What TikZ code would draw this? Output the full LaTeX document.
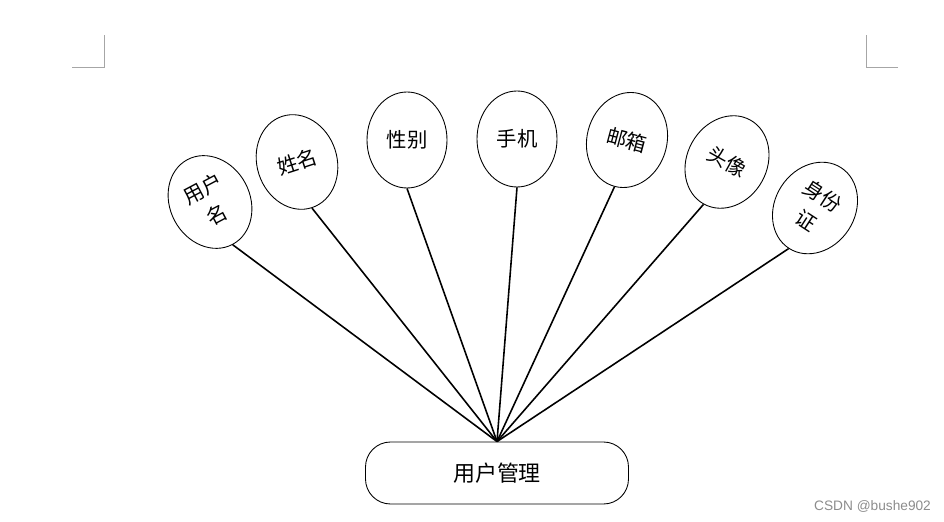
\documentclass[tikz,border=0pt]{standalone}
\usepackage{fontspec}
\newfontfamily\cjk{Noto Sans CJK SC}
\newfontfamily\wmfont{Liberation Sans}
\usetikzlibrary{shapes.geometric}
\begin{document}
\begin{tikzpicture}[
        attr/.style={draw, ellipse, line width=0.5pt, minimum width=1.6cm, minimum height=1.92cm,
            inner sep=0pt, align=center, font=\cjk\fontsize{11.6}{17}\selectfont},
        mgr/.style={draw, rounded corners=0.5cm, line width=0.5pt, minimum width=5.26cm,
            minimum height=1.24cm, font=\cjk\fontsize{12.5}{14}\selectfont},
        spoke/.style={line width=0.9pt},
        crop/.style={draw=black!35, line width=0.5pt}
    ]
    \useasboundingbox (0,0) rectangle (18.88,10.42);

    % page corner marks
    \draw[crop] (1.44,9.08) -- (2.08,9.08) -- (2.08,9.72);
    \draw[crop] (17.96,9.08) -- (17.32,9.08) -- (17.32,9.72);

    \node[mgr] (yhgl) at (9.94,0.96) {用户管理};

    \node[attr, rotate=28] (yhm) at (4.20,6.38) {用户\\名};
    \node[attr, rotate=18] (xm) at (5.94,7.18) {姓名};
    \node[attr] (xb) at (8.14,7.62) {性别};
    \node[attr] (sj) at (10.34,7.64) {手机};
    \node[attr, rotate=-15] (yx) at (12.54,7.62) {邮箱};
    \node[attr, rotate=-29] (tx) at (14.54,7.18) {头像};
    \node[attr, rotate=-33] (sfz) at (16.30,6.26) {身份\\证};

    \draw[spoke] (yhm.south) -- (yhgl.north);
    \draw[spoke] (xm.south) -- (yhgl.north);
    \draw[spoke] (xb.south) -- (yhgl.north);
    \draw[spoke] (sj.south) -- (yhgl.north);
    \draw[spoke] (yx.south) -- (yhgl.north);
    \draw[spoke] (tx.south) -- (yhgl.north);
    \draw[spoke] (sfz.south) -- (yhgl.north);

    \node[font=\wmfont\fontsize{7.8}{9}\selectfont, text=black!45] (mark) at (17.45,0.30) {CSDN @bushe902};
\end{tikzpicture}
\end{document}
